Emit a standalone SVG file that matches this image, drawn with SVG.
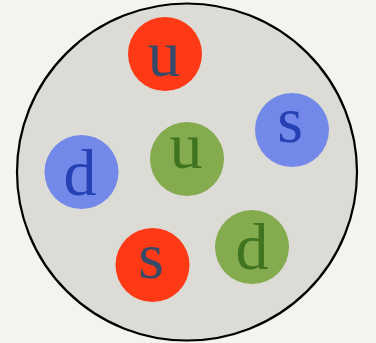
<svg xmlns="http://www.w3.org/2000/svg" width="376" height="343" viewBox="0 0 376 343">
<style>
.q{stroke:none}
.r{fill:#fe3a16}
.b{fill:#7289ea}
.g{fill:#84ab4e}
text{font-family:"Liberation Serif","DejaVu Serif",serif;font-size:66px;text-anchor:middle}
.tr{fill:#394a68}
.tb{fill:#2541b4}
.tg{fill:#3f7420}
</style>
<rect width="376" height="343" fill="#f5f3ee"/>
<g id="hadron"><ellipse cx="187" cy="172" rx="170" ry="168.5" fill="#dcdbd6" stroke="#000" stroke-width="2.2"/></g>
<g id="connectors"></g>
<g id="u-red"><circle class="q r" cx="165" cy="54" r="37"/><text class="tr" x="164" y="76">u</text></g>
<g id="s-blue"><circle class="q b" cx="292" cy="130" r="37"/><text class="tb" x="290" y="142">s</text></g>
<g id="d-blue"><circle class="q b" cx="81.5" cy="172" r="37"/><text class="tb" x="80" y="195">d</text></g>
<g id="u-green"><circle class="q g" cx="187" cy="159" r="37"/><text class="tg" x="186" y="168">u</text></g>
<g id="s-red"><circle class="q r" cx="152.5" cy="265" r="37"/><text class="tr" x="151" y="278">s</text></g>
<g id="d-green"><circle class="q g" cx="252" cy="247" r="37"/><text class="tg" x="252" y="269">d</text></g>
</svg>
